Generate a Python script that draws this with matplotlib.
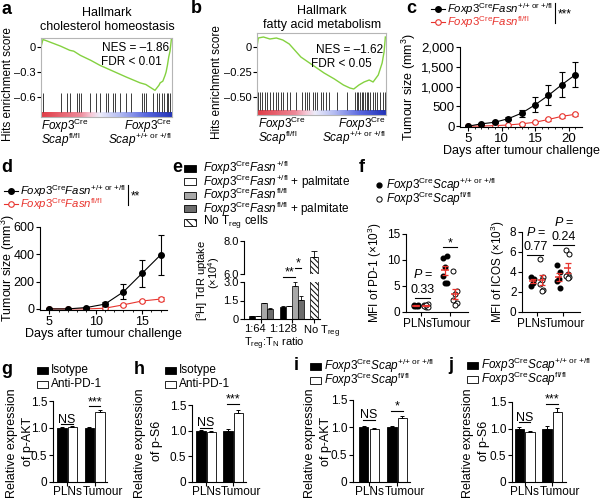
import numpy as np
import matplotlib
matplotlib.use('Agg')
import matplotlib.pyplot as plt
import matplotlib.transforms as mtransforms
from matplotlib.colors import LinearSegmentedColormap
from matplotlib.patches import Rectangle

plt.rcParams['font.family'] = ['Liberation Sans', 'DejaVu Sans']
plt.rcParams['font.size'] = 8.5
plt.rcParams['mathtext.fontset'] = 'custom'
plt.rcParams['mathtext.rm'] = 'Liberation Sans'
plt.rcParams['mathtext.it'] = 'Liberation Sans:italic'
plt.rcParams['mathtext.bf'] = 'Liberation Sans:bold'
plt.rcParams['axes.linewidth'] = 0.8
plt.rcParams['xtick.major.size'] = 3
plt.rcParams['ytick.major.size'] = 3
plt.rcParams['xtick.major.width'] = 0.8
plt.rcParams['ytick.major.width'] = 0.8
plt.rcParams['xtick.major.pad'] = 1
plt.rcParams['ytick.major.pad'] = 1
plt.rcParams['hatch.linewidth'] = 0.7

#%% DATA
# a - GSEA cholesterol homeostasis
a_rank = [0, 0.015, 0.05, 0.1, 0.15, 0.22, 0.25, 0.3, 0.38, 0.45, 0.55, 0.65, 0.756,
          0.8, 0.84, 0.87, 0.88, 0.9, 0.91, 0.93, 0.947, 0.955, 0.965, 0.975, 0.985, 0.995]
a_es = [0.0, 0.09, 0.07, 0.04, 0.01, -0.04, -0.05, -0.1, -0.16, -0.22, -0.29, -0.36, -0.43,
        -0.45, -0.49, -0.52, -0.5, -0.46, -0.43, -0.41, -0.34, -0.3, -0.22, -0.12, -0.05, 0.09]
a_hits = [0.013, 0.153, 0.196, 0.221, 0.277, 0.292, 0.303, 0.374, 0.42, 0.45, 0.496, 0.514,
          0.547, 0.565, 0.603, 0.649, 0.684, 0.768, 0.786, 0.799, 0.857, 0.883, 0.9, 0.921,
          0.939, 0.959, 0.972, 0.985]

# b - GSEA fatty acid metabolism
b_rank = [0, 0.01, 0.05, 0.1, 0.15, 0.2, 0.25, 0.34, 0.43, 0.52, 0.6, 0.67, 0.72, 0.75,
          0.79, 0.83, 0.87, 0.9, 0.94, 0.97, 0.985, 0.995]
b_es = [0, 0.09, 0.1, 0.08, 0.09, 0.07, 0.03, -0.1, -0.18, -0.26, -0.32, -0.38, -0.41, -0.42,
        -0.38, -0.35, -0.33, -0.35, -0.28, -0.16, -0.05, 0.1]
b_hits = [0.01, 0.023, 0.036, 0.062, 0.08, 0.101, 0.127, 0.147, 0.165, 0.184, 0.204, 0.23,
          0.256, 0.302, 0.346, 0.372, 0.39, 0.406, 0.432, 0.45, 0.463, 0.494, 0.514, 0.535,
          0.561, 0.618, 0.695, 0.76, 0.773, 0.786, 0.798, 0.811, 0.824, 0.837, 0.85, 0.863,
          0.876, 0.897, 0.915, 0.933, 0.953, 0.974, 0.992]

# c - tumour growth
c_days = [5, 7, 9, 11, 13, 15, 17, 19, 21]
c_wt = [0, 60, 100, 190, 330, 540, 780, 1050, 1300]
c_wt_err = [10, 20, 30, 40, 85, 190, 250, 310, 320]
c_ko = [0, 5, 15, 30, 60, 100, 170, 250, 300]
c_ko_err = [5, 8, 10, 12, 20, 25, 30, 35, 40]

# d - tumour growth
d_days = [5, 7, 9, 11, 13, 15, 17]
d_wt = [0, 0, 10, 35, 125, 260, 395]
d_wt_err = [3, 3, 5, 15, 55, 97, 148]
d_ko = [0, 0, 0, 5, 30, 58, 72]
d_ko_err = [2, 2, 3, 5, 8, 10, 15]

# e - suppression assay
e_ratios = ['1:64', '1:128']
e_wt = [0.22, 1.0]
e_wt_err = [0.02, 0.04]
e_wt_palm = [0.22, 1.05]
e_wt_palm_err = [0.02, 0.03]
e_ko = [1.28, 2.65]
e_ko_err = [0.04, 0.33]
e_ko_palm = [0.82, 1.58]
e_ko_palm_err = [0.04, 0.32]
e_notreg = 7.05
e_notreg_err = 0.35

# f - MFI
f1_pln_wt = [1.2, 1.3, 1.1, 1.4, 1.2]
f1_pln_ko = [1.3, 1.5, 1.0, 1.2, 0.9, 1.4]
f1_tum_wt = [10.3, 10.8, 8.7, 7.0, 5.6, 5.6]
f1_tum_ko = [7.8, 4.0, 3.4, 2.3, 1.7, 1.4]
f2_pln_wt = [3.5, 3.3, 2.9, 2.6]
f2_pln_ko = [5.3, 3.5, 3.2, 2.8, 2.2, 2.1]
f2_tum_wt = [4.7, 4.0, 3.3, 3.1, 2.4]
f2_tum_ko = [6.2, 5.8, 3.8, 3.6, 3.5, 3.4]

# g-j relative expression
tissues = ['PLNs', 'Tumour']
g_iso, g_iso_err = [1.0, 1.0], [0.02, 0.01]
g_anti, g_anti_err = [1.02, 1.29], [0.01, 0.04]
h_iso, h_iso_err = [1.0, 1.0], [0.02, 0.04]
h_anti, h_anti_err = [0.98, 1.35], [0.01, 0.05]
i_wt, i_wt_err = [1.0, 1.0], [0.03, 0.03]
i_ko, i_ko_err = [0.97, 1.17], [0.01, 0.03]
j_wt, j_wt_err = [1.0, 1.0], [0.04, 0.05]
j_ko, j_ko_err = [0.93, 1.32], [0.02, 0.07]

RED = '#e8342e'
W, H = 600, 499
fig = plt.figure(figsize=(6, 4.99), dpi=100)


def box(x0, y0, x1, y1):
    # axes placed with pixel coords (top-left origin)
    ax = fig.add_axes([x0 / W, 1 - y1 / H, (x1 - x0) / W, (y1 - y0) / H])
    ax.patch.set_alpha(0)
    return ax


def clean(ax):
    ax.spines['top'].set_visible(False)
    ax.spines['right'].set_visible(False)


def shift_labels(ax, dxs):
    # nudge x tick labels sideways by a few pixels
    for lab, dx in zip(ax.get_xticklabels(), dxs):
        off = mtransforms.ScaledTranslation(dx / 100, 0, fig.dpi_scale_trans)
        lab.set_transform(lab.get_transform() + off)


gsea_cmap = LinearSegmentedColormap.from_list(
    'gsea', [(0, '#e03c46'), (0.3, '#ee8a9a'), (0.38, '#f6c8d6'), (0.45, '#ececfa'),
             (0.6, '#b4bcf2'), (0.8, '#5a68e0'), (1, '#2233b8')])


def gsea(ax, rank, es, hits, ylim, hit_band, bar_band, yticks, ylabels):
    ax.plot(rank, es, color='#84d140', lw=1.0)
    ax.vlines(hits, hit_band[0], hit_band[1], color='#3a3a3a', lw=0.7)
    ax.imshow(np.linspace(0, 1, 256)[None, :], aspect='auto', cmap=gsea_cmap,
              extent=(0, 1, bar_band[0], bar_band[1]))
    ax.set_xlim(0, 1)
    ax.set_ylim(*ylim)
    ax.set_xticks([])
    ax.set_yticks(yticks)
    ax.set_yticklabels(ylabels, fontsize=8)
    for s in ax.spines.values():
        s.set_color('#b5b5b5')


#%% a
axa = box(41, 38, 172, 117)
gsea(axa, a_rank, a_es, a_hits, (-0.84, 0.108), (-0.78, -0.552), (-0.84, -0.78),
     [0, -0.3, -0.6], ['0', '\u20130.3', '\u20130.6'])

#%% b
axb = box(257, 33, 386, 115)
gsea(axb, b_rank, b_es, b_hits, (-0.68, 0.14), (-0.63, -0.447), (-0.68, -0.63),
     [0, -0.25, -0.5], ['0', '\u20130.25', '\u20130.50'])

#%% c
axc = box(460, 47, 582, 127)
axc.errorbar(c_days, c_wt, yerr=c_wt_err, color='black', marker='o', ms=4, lw=0.8,
             elinewidth=0.8, capsize=2.5, capthick=0.8, zorder=3)
axc.errorbar(c_days, c_ko, yerr=c_ko_err, color=RED, marker='o', ms=4, mfc='white',
             mec=RED, mew=0.8, lw=0.8, elinewidth=0.8, capsize=2.5, capthick=0.8)
axc.set_xlim(3.8, 22)
axc.set_ylim(-20, 2000)
axc.set_xticks([5, 10, 15, 20])
axc.set_xticks(range(5, 22), minor=True)
axc.set_yticks([0, 500, 1000, 1500, 2000])
axc.set_yticklabels(['0', '500', '1,000', '1,500', '2,000'])
axc.tick_params(labelsize=9.5)
axc.tick_params(which='minor', length=1.5, width=0.6)
axc.set_ylabel('Tumour size (mm$^3$)', labelpad=2, fontsize=9)
axc.set_xlabel('Days after tumour challenge', labelpad=0, fontsize=9)
clean(axc)

#%% d
axd = box(40, 227, 167, 310)
axd.errorbar(d_days, d_wt, yerr=d_wt_err, color='black', marker='o', ms=4, lw=0.8,
             elinewidth=0.8, capsize=2.5, capthick=0.8, zorder=3)
axd.errorbar(d_days, d_ko, yerr=d_ko_err, color=RED, marker='o', ms=4, mfc='white',
             mec=RED, mew=0.8, lw=0.8, elinewidth=0.8, capsize=2.5, capthick=0.8)
axd.set_xlim(4.0, 17.7)
axd.set_ylim(-8, 600)
axd.set_xticks([5, 10, 15])
axd.set_xticks(range(5, 18), minor=True)
axd.tick_params(which='minor', length=1.5, width=0.6)
axd.set_yticks([0, 200, 400, 600])
axd.tick_params(labelsize=9)
axd.set_xlabel('Days after tumour challenge', labelpad=0, fontsize=9)
clean(axd)

#%% e (broken axis)
axe = box(244, 282, 320, 319)
axu = box(244, 241, 320, 274)
grp = np.array([1.5, 6.7])
offs = [-1.5, -0.5, 0.5, 1.5]
e_vals = [e_wt, e_wt_palm, e_ko, e_ko_palm]
e_errs = [e_wt_err, e_wt_palm_err, e_ko_err, e_ko_palm_err]
e_cols = ['black', 'white', '#a8a8a8', '#6c6c6c']
for vals, errs, col, o in zip(e_vals, e_errs, e_cols, offs):
    axe.bar(grp + o, vals, width=1.0, color=col, edgecolor='black', lw=0.5)
    axe.errorbar(grp + o, vals, yerr=[[0, 0], errs], fmt='none', ecolor='black',
                 elinewidth=0.6, capsize=1.5, capthick=0.6)
for ax in (axe, axu):
    ax.bar(10.3, e_notreg, width=1.4, color='white', edgecolor='black', lw=0.5,
           hatch='\\\\\\\\\\\\')
axu.errorbar(10.3, e_notreg, yerr=[[0], [e_notreg_err]], fmt='none', ecolor='black',
             elinewidth=0.6, capsize=2, capthick=0.6)
axe.set_xlim(-1.33, 11.3)
axu.set_xlim(-1.33, 11.3)
axe.set_ylim(0, 3.0)
axu.set_ylim(6, 8)
axe.set_yticks([0, 1.5, 3.0])
axe.set_yticklabels(['0', '1.5', '3.0'])
axu.set_yticks([6, 8])
axu.set_yticklabels(['6.0', '8.0'])
axe.tick_params(axis='y', labelsize=8)
axu.tick_params(axis='y', labelsize=8)
axe.tick_params(axis='x', labelsize=8, pad=0.5)
axe.set_xticks([1.5, 6.7, 10.3])
axe.set_xticklabels(e_ratios + ['No T$_{\\mathrm{reg}}$'])
shift_labels(axe, [-6, -9, 8])
clean(axe)
clean(axu)
axu.spines['bottom'].set_visible(False)
axu.set_xticks([])
# significance
axe.plot([grp[1] - 1.5, grp[1] + 0.5], [3.41, 3.41], color='black', lw=0.8, clip_on=False)
axe.text(grp[1] - 0.5, 3.3, '**', ha='center', va='bottom', fontsize=9)
axe.plot([grp[1] + 0.4, grp[1] + 1.5], [4.14, 4.14], color='black', lw=0.8, clip_on=False)
axe.text(grp[1] + 0.95, 4.03, '*', ha='center', va='bottom', fontsize=9)

#%% f
jit = [-0.06, 0.06, 0.0, -0.06, 0.06, 0.0]


def dots(ax, x, vals, filled):
    xs = [x + jit[k] for k in range(len(vals))]
    if filled:
        ax.plot(xs, vals, 'o', color='black', ms=3.3, zorder=3, clip_on=False)
    else:
        ax.plot(xs, vals, 'o', mfc='white', mec='black', mew=0.7, ms=3.6, zorder=3,
                clip_on=False)
    m = np.mean(vals)
    sem = np.std(vals, ddof=1) / np.sqrt(len(vals))
    ax.hlines(m, x - 0.13, x + 0.13, color=RED, lw=1.1, zorder=4)
    ax.errorbar(x, m, yerr=sem, fmt='none', ecolor=RED, elinewidth=0.9, capsize=2,
                capthick=0.9, zorder=4)


axf1 = box(406, 234, 468, 312)
dots(axf1, 1 - 0.17, f1_pln_wt, True)
dots(axf1, 1 + 0.17, f1_pln_ko, False)
dots(axf1, 2 - 0.17, f1_tum_wt, True)
dots(axf1, 2 + 0.17, f1_tum_ko, False)
axf1.set_xlim(0.48, 2.62)
axf1.set_ylim(0, 15)
axf1.set_yticks([0, 5, 10, 15])
axf1.set_xticks([1, 2])
axf1.set_xticklabels(tissues)
shift_labels(axf1, [-4, 1])
axf1.set_ylabel('MFI of PD-1 (\u00d710$^3$)', labelpad=2)
clean(axf1)

axf2 = box(522, 232, 580, 312)
dots(axf2, 1 - 0.17, f2_pln_wt, True)
dots(axf2, 1 + 0.17, f2_pln_ko, False)
dots(axf2, 2 - 0.17, f2_tum_wt, True)
dots(axf2, 2 + 0.17, f2_tum_ko, False)
axf2.set_xlim(0.42, 2.65)
axf2.set_ylim(0, 8)
axf2.set_yticks([0, 2, 4, 6, 8])
axf2.set_xticks([1, 2])
axf2.set_xticklabels(tissues)
shift_labels(axf2, [-6, 2])
axf2.set_ylabel('MFI of ICOS (\u00d710$^3$)', labelpad=2)
clean(axf2)


#%% g-j
def relbar(ax, xlim, a, a_err, b, b_err, sig):
    x = np.array([1, 2])
    ax.bar(x - 0.19, a, 0.34, color='black', edgecolor='black', lw=0.6)
    ax.bar(x + 0.19, b, 0.34, color='white', edgecolor='black', lw=0.6)
    ax.errorbar(x - 0.19, a, yerr=[[0, 0], a_err], fmt='none', ecolor='black',
                elinewidth=0.7, capsize=1.5, capthick=0.7)
    ax.errorbar(x + 0.19, b, yerr=[[0, 0], b_err], fmt='none', ecolor='black',
                elinewidth=0.7, capsize=1.5, capthick=0.7)
    ax.set_xlim(*xlim)
    ax.set_ylim(0, 1.5)
    ax.set_yticks([0, 0.5, 1.0, 1.5])
    ax.set_yticklabels(['0', '0.5', '1.0', '1.5'])
    ax.set_xticks(x)
    ax.set_xticklabels(tissues)
    ax.tick_params(labelsize=8.5)
    ax.tick_params(axis='x', pad=0)
    shift_labels(ax, [0, 8])
    for xi, y, s in zip(x, sig[0], sig[1]):
        ax.plot([xi - 0.21, xi + 0.21], [y, y], color='black', lw=0.8, clip_on=False)
        ax.text(xi, y - 0.03, s, ha='center', va='bottom', fontsize=9)
    clean(ax)


axg = box(53, 401, 107, 482)
relbar(axg, (0.49, 2.45), g_iso, g_iso_err, g_anti, g_anti_err, ([1.07, 1.40], ['NS', '***']))
axh = box(192, 405, 246, 482)
relbar(axh, (0.48, 2.48), h_iso, h_iso_err, h_anti, h_anti_err, ([1.06, 1.52], ['NS', '***']))
axi = box(353, 400, 410, 482)
relbar(axi, (0.43, 2.46), i_wt, i_wt_err, i_ko, i_ko_err, ([1.14, 1.30], ['NS', '*']))
axj = box(512, 402, 566, 482)
relbar(axj, (0.54, 2.5), j_wt, j_wt_err, j_ko, j_ko_err, ([1.12, 1.47], ['NS', '***']))

#%% overlay: panel letters, titles, legends
ov = fig.add_axes([0, 0, 1, 1], zorder=10)
ov.set_xlim(0, W)
ov.set_ylim(H, 0)
ov.axis('off')


def T(x, y, s, **kw):
    kw.setdefault('fontsize', 8.5)
    kw.setdefault('va', 'center')
    ov.text(x, y, s, **kw)


for lab, x, y in [('a', 1, 9), ('b', 191, 8), ('c', 406, 8), ('d', 1, 168), ('e', 172, 167),
                  ('f', 359, 167), ('g', 1, 369), ('h', 134, 369), ('i', 294, 366),
                  ('j', 448, 366)]:
    T(x, y, lab, fontsize=13, fontweight='bold')

FOX = r'\mathit{Foxp3}^{\mathrm{Cre}}'
PP = r'{+}/{+}\ or\ {+}/fl'

# a / b titles and labels
T(107, 13, 'Hallmark', ha='center', fontsize=9)
T(107, 27, 'cholesterol homeostasis', ha='center', fontsize=9)
T(322, 11, 'Hallmark', ha='center', fontsize=9)
T(322, 25, 'fatty acid metabolism', ha='center', fontsize=9)
T(169, 48, 'NES = \u20131.86', ha='right')
T(101, 62, 'FDR < 0.01', ha='left')
T(383, 50, 'NES = \u20131.62', ha='right')
T(311, 64, 'FDR < 0.05', ha='left')
T(8, 84, 'Hits enrichment score', rotation=90, ha='center')
T(217, 82, 'Hits enrichment score', rotation=90, ha='center')
for x0, x1, y0 in [(41, 172, 126), (258, 386, 124)]:
    T(x0, y0, '$' + FOX + '$', ha='left')
    T(x0, y0 + 14, r'$\mathit{Scap}^{\mathrm{fl/fl}}$', ha='left')
    T(x1, y0, '$' + FOX + '$', ha='right')
    T(x1, y0 + 14, r'$\mathit{Scap}^{\mathrm{' + PP + '}}$', ha='right')

# d y label (sits at the left edge)
T(8, 268, 'Tumour size (mm$^3$)', rotation=90, ha='center', fontsize=9)

# c / d legends
for lx, ly, bx, stars in [(431, 9, 555, '***'), (4, 191, 128, '**')]:
    ov.plot([lx, lx + 14], [ly, ly], color='black', lw=0.8)
    ov.plot([lx + 7], [ly], 'o', color='black', ms=4)
    ov.plot([lx, lx + 14], [ly + 13, ly + 13], color=RED, lw=0.8)
    ov.plot([lx + 7], [ly + 13], 'o', mfc='white', mec=RED, mew=0.8, ms=4)
    T(lx + 16, ly, r'$\mathit{Foxp3}^{\mathrm{Cre}}\mathit{Fasn}^{\mathrm{' + PP + '}}$',
      fontsize=8.2)
    T(lx + 16, ly + 13, r'$\mathit{Foxp3}^{\mathrm{Cre}}\mathit{Fasn}^{\mathrm{fl/fl}}$',
      color=RED, fontsize=8.2)
    ov.plot([bx, bx], [ly - 6, ly + 14], color='black', lw=0.8)
    T(bx + 3, ly + 5, stars, fontsize=8.5)

# e legend
e_labels = [r'$' + FOX + r'\mathit{Fasn}^{\mathrm{{+}/fl}}$',
            r'$' + FOX + r'\mathit{Fasn}^{\mathrm{{+}/fl}}$ + palmitate',
            r'$' + FOX + r'\mathit{Fasn}^{\mathrm{fl/fl}}$',
            r'$' + FOX + r'\mathit{Fasn}^{\mathrm{fl/fl}}$ + palmitate',
            r'No T$_{\mathrm{reg}}$ cells']
for k, (lab, col) in enumerate(zip(e_labels, e_cols + ['white'])):
    y = 168 + k * 13.5
    ov.add_patch(Rectangle((184, y - 3.5), 12, 7, facecolor=col, edgecolor='black', lw=0.6,
                           hatch='\\\\\\\\' if k == 4 else None))
    T(203, y, lab)
T(202, 280, '[$^3$H] TdR uptake', rotation=90, ha='center', fontsize=8)
T(214, 273, '(\u00d710$^4$)', rotation=90, ha='center', fontsize=8)
T(274, 344, 'T$_{\\mathrm{reg}}$:T$_{\\mathrm{N}}$ ratio', ha='center', fontsize=8)

# f legend and stats
ov.plot([379], [185], 'o', color='black', ms=3.5)
ov.plot([379], [199], 'o', mfc='white', mec='black', mew=0.7, ms=3.8)
T(386, 185, r'$\mathit{Foxp3}^{\mathrm{Cre}}\mathit{Scap}^{\mathrm{' + PP + '}}$')
T(386, 199, r'$\mathit{Foxp3}^{\mathrm{Cre}}\mathit{Scap}^{\mathrm{fl/fl}}$')
for xc, y, val, x0, x1 in [(423, 275, '0.33', 415, 430), (536, 232, '0.77', 527, 543),
                           (564, 222, '0.24', 553, 574)]:
    T(xc, y, r'$\mathit{P}$ =', ha='center', fontsize=9)
    T(xc, y + 15, val, ha='center', fontsize=9)
    ov.plot([x0, x1], [y + 23, y + 23], color='black', lw=0.8)
ov.plot([443, 457], [247, 247], color='black', lw=0.8)
T(450, 243, '*', ha='center', fontsize=9)

# g-j legends and y labels
for x, y, l1, l2 in [(37, 370, 'Isotype', 'Anti-PD-1'), (165, 370, 'Isotype', 'Anti-PD-1'),
                     (310, 366, r'$\mathit{Foxp3}^{\mathrm{Cre}}\mathit{Scap}^{\mathrm{' + PP + '}}$',
                      r'$\mathit{Foxp3}^{\mathrm{Cre}}\mathit{Scap}^{\mathrm{fl/fl}}$'),
                     (467, 365, r'$\mathit{Foxp3}^{\mathrm{Cre}}\mathit{Scap}^{\mathrm{' + PP + '}}$',
                      r'$\mathit{Foxp3}^{\mathrm{Cre}}\mathit{Scap}^{\mathrm{fl/fl}}$')]:
    ov.add_patch(Rectangle((x, y - 3.5), 11, 7, facecolor='black', edgecolor='black', lw=0.6))
    ov.add_patch(Rectangle((x, y + 10.5), 11, 7, facecolor='white', edgecolor='black', lw=0.6))
    T(x + 14, y, l1)
    T(x + 14, y + 14, l2)
for x1, x2, s in [(12, 28, 'of p-AKT'), (140, 157, 'of p-S6'), (310, 326, 'of p-AKT'),
                  (468, 484, 'of p-S6')]:
    T(x1, 443, 'Relative expression', rotation=90, ha='center', fontsize=9)
    T(x2, 441, s, rotation=90, ha='center', fontsize=9)

fig.savefig('out.png', dpi=100)
